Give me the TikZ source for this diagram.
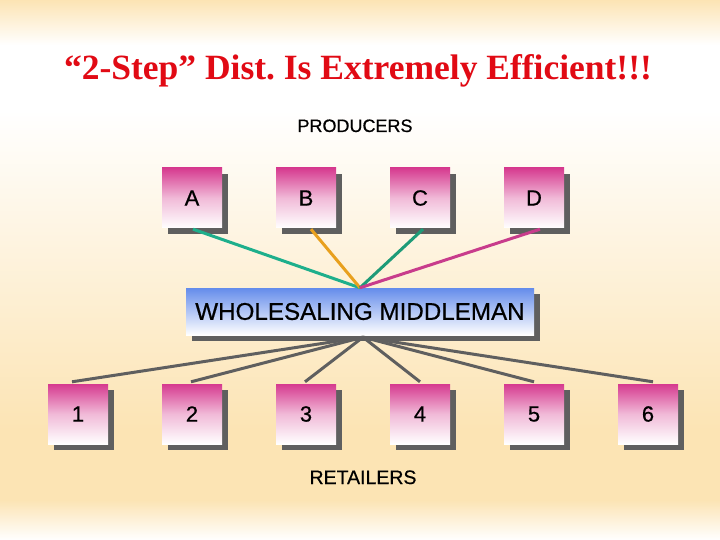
\documentclass[tikz,border=0pt]{standalone}
\usepackage{fontspec}
\setmainfont{Liberation Sans}
\newfontfamily\medsans[FakeBold=0.6]{Liberation Sans}
\newfontfamily\titlefont{Liberation Serif}
\usetikzlibrary{shadows,calc}
\definecolor{peach}{RGB}{252,228,180}
\definecolor{boxmag}{RGB}{214,58,143}
\definecolor{wblue}{RGB}{100,140,235}
\definecolor{shade}{RGB}{95,95,95}
\definecolor{titlered}{RGB}{225,10,20}
\definecolor{lineA}{RGB}{30,175,140}
\definecolor{lineB}{RGB}{232,160,30}
\definecolor{lineC}{RGB}{30,155,120}
\definecolor{lineD}{RGB}{200,60,140}
\definecolor{lgray}{RGB}{95,95,95}
\pgfdeclarelayer{bg}
\pgfsetlayers{bg,main}
\tikzset{
  sqbox/.style={draw=none, minimum width=60bp, minimum height=60bp, inner sep=0pt,
    top color=boxmag, bottom color=white, middle color={boxmag!35!white},
    font=\medsans\fontsize{22bp}{24bp}\selectfont,
    drop shadow={shadow xshift=6bp, shadow yshift=-6bp, fill=shade, opacity=1}},
  wbox/.style={draw=none, minimum width=348bp, minimum height=47bp, inner sep=0pt,
    top color=wblue, bottom color=white,
    font=\medsans\fontsize{24.2bp}{26bp}\selectfont,
    drop shadow={shadow xshift=6bp, shadow yshift=-6bp, fill=shade, opacity=1}},
  conn/.style={line width=3bp},
  lbl/.style={font=\medsans\fontsize{18bp}{20bp}\selectfont, anchor=base}
}
\begin{document}
\frenchspacing
\begin{tikzpicture}[x=1bp,y=-1bp]
\useasboundingbox (0,0) rectangle (720,540);
\begin{pgfonlayer}{bg}
  \fill[top color=peach, bottom color=white] (0,0) rectangle (720,45);
  \fill[white] (0,45) rectangle (720,110);
  \fill[top color=white, bottom color=peach] (0,110) rectangle (720,430);
  \fill[peach] (0,430) rectangle (720,500);
  \fill[top color=peach, bottom color=white] (0,500) rectangle (720,540);
\end{pgfonlayer}

\node[anchor=base, text=titlered, font=\titlefont\bfseries\fontsize{35.5bp}{40bp}\selectfont] (title) at (358,80) {“2-Step” Dist. Is Extremely Efficient!!!};
\node[lbl] (prod) at (355,132) {PRODUCERS};
\node[lbl, font=\medsans\fontsize{19.5bp}{21bp}\selectfont] (ret) at (363,484) {RETAILERS};

\node[sqbox] (A) at (192,198) {A};
\node[sqbox] (B) at (306,198) {B};
\node[sqbox] (C) at (420,198) {C};
\node[sqbox] (D) at (534,198) {D};

\node[wbox] (W) at (360,311.5) {WHOLESALING MIDDLEMAN};

\node[sqbox] (R1) at (78,414) {1};
\node[sqbox] (R2) at (192,414) {2};
\node[sqbox] (R3) at (306,414) {3};
\node[sqbox] (R4) at (420,414) {4};
\node[sqbox] (R5) at (534,414) {5};
\node[sqbox] (R6) at (648,414) {6};

\coordinate (top) at ($(W.north)+(0,0)$);
\coordinate (hub) at ($(W.south)+(3,2)$);

\draw[conn, lineA] ($(A.south)+(1,1)$) -- (top);
\draw[conn, lineB] ($(B.south)+(5,1)$) -- (top);
\draw[conn, lineC] ($(C.south)+(3,1)$) -- (top);
\draw[conn, lineD] ($(D.south)+(6,1)$) -- (top);
\draw[conn, lgray] (hub) -- ($(R1.north)+(-6,-2)$);
\draw[conn, lgray] (hub) -- ($(R2.north)+(-1,-2)$);
\draw[conn, lgray] (hub) -- ($(R3.north)+(-1,-2)$);
\draw[conn, lgray] (hub) -- ($(R4.north)+(0,-2)$);
\draw[conn, lgray] (hub) -- ($(R5.north)+(0,-2)$);
\draw[conn, lgray] (hub) -- ($(R6.north)+(5,-2)$);
\end{tikzpicture}
\end{document}
